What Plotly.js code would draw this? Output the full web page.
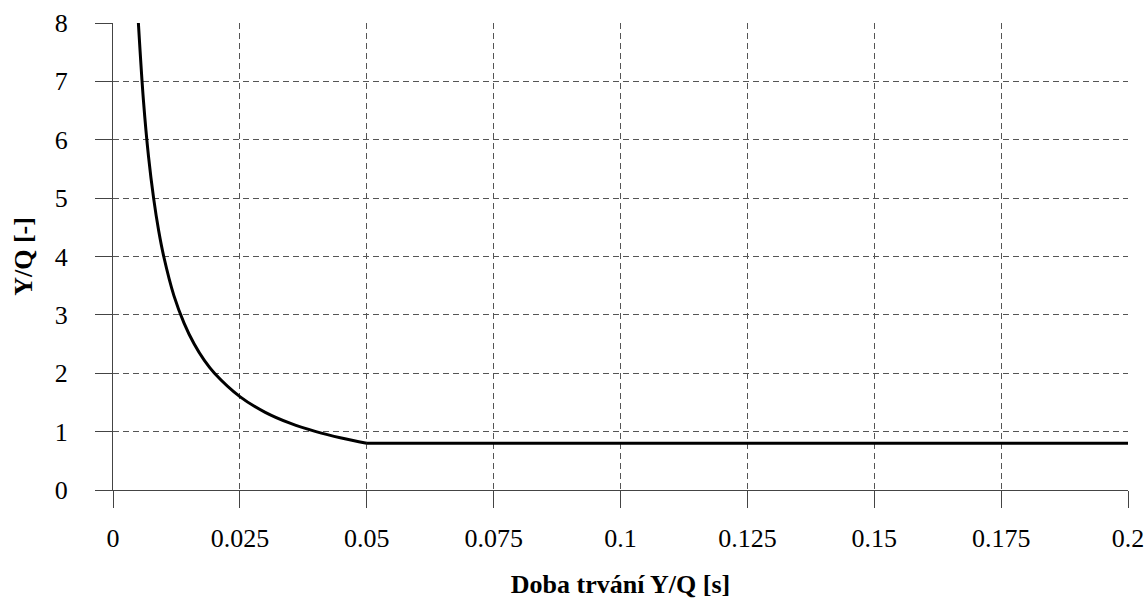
<!DOCTYPE html>
<html>
<head>
<meta charset="utf-8">
<script src="https://cdn.plot.ly/plotly-3.0.1.min.js"></script>
<style>
html,body{margin:0;padding:0;background:#fff;}
#chart{width:1148px;height:601px;}
</style>
</head>
<body>
<div id="chart"></div>
<script>
// Values
const durations = [0.005, 0.006, 0.007, 0.008, 0.009, 0.010, 0.012, 0.014, 0.016, 0.018, 0.020, 0.025, 0.030, 0.035, 0.040, 0.045, 0.050, 0.200];
const ratios    = [8.0, 6.67, 5.71, 5.0, 4.44, 4.0, 3.33, 2.86, 2.5, 2.22, 2.0, 1.6, 1.33, 1.14, 1.0, 0.89, 0.8, 0.8];
const xTicks = [0, 0.025, 0.05, 0.075, 0.1, 0.125, 0.15, 0.175, 0.2];
const xTickLabels = ['0', '0.025', '0.05', '0.075', '0.1', '0.125', '0.15', '0.175', '0.2'];
const yTicks = [0, 1, 2, 3, 4, 5, 6, 7, 8];
const xTitle = 'Doba trvání Y/Q [s]';
const yTitle = 'Y/Q [-]';

const fontFamily = 'Liberation Serif';

const curveTrace = {
  x: durations.slice(0, 17), y: ratios.slice(0, 17), type: 'scatter', mode: 'lines',
  line: {color: '#000', width: 3, shape: 'spline', smoothing: 1},
  hoverinfo: 'skip', showlegend: false
};
const flatTrace = {
  x: durations.slice(16), y: ratios.slice(16), type: 'scatter', mode: 'lines',
  line: {color: '#000', width: 3},
  hoverinfo: 'skip', showlegend: false
};

function axisCommon() {
  return {
    showline: true, linecolor: '#444', linewidth: 1,
    ticks: 'outside', ticklen: 17, tickcolor: '#444', tickwidth: 1,
    showgrid: true, gridcolor: '#555', gridwidth: 1, griddash: '6px,4px',
    zeroline: false,
    fixedrange: true
  };
}

const layout = {
  width: 1148, height: 601,
  margin: {l: 113, r: 20, t: 23, b: 111},
  paper_bgcolor: '#fff', plot_bgcolor: '#fff',
  font: {family: fontFamily, size: 26, color: '#000'},
  xaxis: Object.assign(axisCommon(), {
    range: [0, 0.2], tickmode: 'array', tickvals: xTicks, ticktext: xTickLabels,
    ticklabelstandoff: 8,
    title: {text: '<b>' + xTitle + '</b>', font: {family: fontFamily, size: 26, color: '#000'}, standoff: 22}
  }),
  yaxis: Object.assign(axisCommon(), {
    range: [0, 8], tickmode: 'array', tickvals: yTicks,
    ticklabelstandoff: 22,
    title: {text: '<b>' + yTitle + '</b>', font: {family: fontFamily, size: 26, color: '#000'}, standoff: 14}
  })
};

Plotly.newPlot('chart', [curveTrace, flatTrace], layout, {displayModeBar: false, staticPlot: true});
</script>
</body>
</html>
